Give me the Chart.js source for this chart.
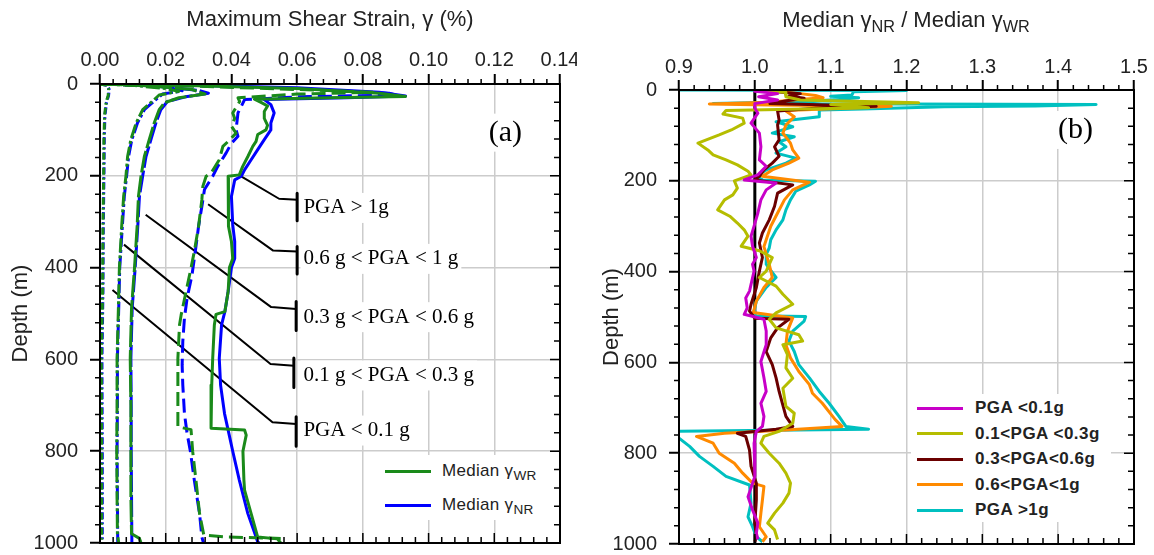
<!DOCTYPE html>
<html>
<head>
<meta charset="utf-8">
<script src="https://cdn.jsdelivr.net/npm/chart.js@4.4.1/dist/chart.umd.min.js"></script>
<style>
html, body { margin: 0; padding: 0; background: #fff; }
#wrap { position: relative; width: 1154px; height: 555px; overflow: hidden; font-family: "Liberation Sans", Arial, sans-serif; color: #222; }
canvas { position: absolute; top: 0; }
#chartA { left: 0; }
#chartB { left: 577px; }
.title { position: absolute; font-size: 22px; white-space: nowrap; transform: translate(-50%, -50%); }
.title sub { font-size: 0.74em; }
sub { font-size: 0.8em; vertical-align: baseline; position: relative; top: 0.33em; line-height: 0; }
.legend { position: absolute; background: #fff; }
.legend .row { position: absolute; left: 0; height: 0; white-space: nowrap; }
.legend .sw { position: absolute; top: -1.5px; height: 3px; }
.legend .tx { position: absolute; top: 0; transform: translateY(-50%); }
#legendA { left: 381px; top: 455px; width: 166px; height: 65px; font-size: 17px; letter-spacing: 0.3px; }
#legendB { left: 911px; top: 394px; width: 200px; height: 128px; font-size: 17px; font-weight: bold; letter-spacing: 0.5px; }
</style>
</head>
<body>
<div id="wrap">
  <canvas id="chartA" width="577" height="555"></canvas>
  <canvas id="chartB" width="577" height="555"></canvas>
  <div class="title" style="left:906px;top:20px;">Median γ<sub>NR</sub> / Median γ<sub>WR</sub></div>
  <div class="legend" id="legendA"></div>
  <div class="legend" id="legendB"></div>
</div>
<script>
// axis ticks
const strainTicks = [0, 0.02, 0.04, 0.06, 0.08, 0.10, 0.12, 0.14];
const ratioTicks = [0.9, 1.0, 1.1, 1.2, 1.3, 1.4, 1.5];
const depthTicks = [0, 200, 400, 600, 800, 1000];

// (a) median max shear strain [strain %, depth m], WR = with rotation, NR = no rotation
const wrLt01 = [[0,0],[0.002,3],[0.0026,10],[0.0025,25],[0.0019,38],[0.0014,68],[0.0012,118],[0.0011,200],[0.0009,310],[0.0008,450],[0.0004,600],[0.0005,800],[0.0005,1000]];
const nrLt01 = [[0,0],[0.0022,3],[0.0028,12],[0.0026,25],[0.002,40],[0.0015,68],[0.0013,118],[0.0012,200],[0.001,310],[0.0009,450],[0.0006,600],[0.0007,800],[0.0007,1000]];
const wr0103 = [[0,0],[0.01,3],[0.02,10],[0.024,16],[0.018,24],[0.0165,34],[0.013,56],[0.011,85],[0.0094,121],[0.0084,158],[0.0079,200],[0.0072,245],[0.0066,310],[0.0059,401],[0.0056,488],[0.0052,598],[0.0052,700],[0.0051,800],[0.0052,900],[0.0053,980],[0.0057,1000]];
const nr0103 = [[0,0],[0.01,2],[0.022,9],[0.025,15],[0.019,22],[0.017,34],[0.0135,56],[0.0114,85],[0.0097,121],[0.0087,158],[0.0081,200],[0.0074,245],[0.0068,310],[0.006,401],[0.0057,488],[0.0053,598],[0.0053,700],[0.0052,800],[0.0053,900],[0.0054,1000]];
const wr0306 = [[0,0],[0.015,4],[0.028,12],[0.032,22],[0.024,30],[0.0196,41],[0.018,56],[0.0165,85],[0.015,121],[0.0135,158],[0.0125,200],[0.0117,245],[0.0113,310],[0.0105,401],[0.0096,488],[0.0092,598],[0.0094,700],[0.0094,800],[0.0094,900],[0.0096,980],[0.012,990],[0.0125,1000]];
const nr0306 = [[0,0],[0.015,3],[0.03,14],[0.033,20],[0.026,28],[0.0205,38],[0.0185,56],[0.017,85],[0.0155,121],[0.014,158],[0.013,200],[0.012,245],[0.0115,310],[0.0107,401],[0.0098,488],[0.0094,598],[0.0095,700],[0.0095,800],[0.0096,900],[0.0097,1000]];
const wr0610 = [[0,0],[0.03,5],[0.06,12],[0.083,18],[0.06,22],[0.042,30],[0.0425,38],[0.0415,50],[0.0404,63],[0.041,75],[0.040,92],[0.0414,107],[0.039,125],[0.0374,136],[0.0363,165],[0.0338,194],[0.0323,201],[0.0313,223],[0.031,252],[0.030,310],[0.0287,365],[0.0277,401],[0.0262,452],[0.0247,503],[0.0242,525],[0.0237,598],[0.0237,656],[0.0237,747],[0.0277,753],[0.0282,800],[0.0292,863],[0.0303,936],[0.0316,983],[0.0385,987],[0.055,990]];
const nr0610 = [[0,0],[0.03,4],[0.06,10],[0.088,20],[0.09,24],[0.06,28],[0.044,34],[0.042,63],[0.0414,100],[0.042,114],[0.040,129],[0.0384,150],[0.0358,180],[0.0343,201],[0.0318,230],[0.031,267],[0.030,310],[0.029,365],[0.028,416],[0.0265,467],[0.0257,510],[0.0252,561],[0.025,612],[0.0252,656],[0.0257,718],[0.0265,761],[0.0275,800],[0.0287,863],[0.0303,936],[0.031,987],[0.0315,1000]];
const wrGt1 = [[0,0],[0.03,4],[0.06,10],[0.085,20],[0.093,27],[0.07,30],[0.047,33],[0.049,40],[0.051,48],[0.050,60],[0.050,75],[0.051,90],[0.0505,100],[0.048,110],[0.0475,125],[0.0465,136],[0.045,158],[0.0434,180],[0.0424,198],[0.039,201],[0.039,245],[0.0392,310],[0.040,343],[0.0404,380],[0.0394,400],[0.039,452],[0.038,496],[0.0353,502],[0.0348,525],[0.0343,598],[0.034,656],[0.0338,700],[0.0338,750],[0.044,754],[0.0445,765],[0.0435,800],[0.0438,863],[0.044,885],[0.046,936],[0.048,987],[0.054,991],[0.055,1000]];
const nrGt1 = [[0,0],[0.03,3],[0.06,8],[0.085,18],[0.093,26],[0.075,30],[0.05,34],[0.052,45],[0.053,63],[0.052,85],[0.052,100],[0.050,121],[0.048,143],[0.046,165],[0.044,187],[0.043,201],[0.041,209],[0.040,245],[0.0404,307],[0.041,343],[0.041,380],[0.040,400],[0.039,452],[0.038,496],[0.037,525],[0.0363,598],[0.0367,656],[0.0379,718],[0.039,754],[0.0404,800],[0.0424,863],[0.045,936],[0.0475,987],[0.048,998],[0.0485,1000]];

// (a) leader lines and brackets [strain %, depth m]
const annotText = ['PGA > 1g', '0.6 g < PGA < 1 g', '0.3 g < PGA < 0.6 g', '0.1 g < PGA < 0.3 g', 'PGA < 0.1 g'];
const annotDepth = [270, 381, 508, 635, 755];
const leaders = [
  [[0.0427,200],[0.0545,250],[0.0600,252]],
  [[0.0329,262],[0.0527,363],[0.0600,365]],
  [[0.0139,285],[0.0521,486],[0.0597,490]],
  [[0.0073,350],[0.0519,610],[0.0590,614]],
  [[0.0038,449],[0.0525,737],[0.0597,741]]
];
const brackets = [
  [[0.0600,238],[0.0600,298]],
  [[0.0600,354],[0.0600,414]],
  [[0.0597,474],[0.0597,537]],
  [[0.0590,597],[0.0590,661]],
  [[0.0597,725],[0.0597,789]]
];

// (b) median ratio NR/WR [ratio, depth m]
const ratioLt01 = [[1.0,0],[1.0,3],[1.03,8],[1.005,15],[1.03,22],[1.0,30],[1.0,40],[1.004,51],[0.995,73],[1.006,95],[1.008,125],[1.006,154],[1.015,168],[1.004,187],[0.986,198],[1.028,205],[1.015,220],[1.008,242],[1.004,271],[0.999,300],[0.995,322],[0.997,344],[1.002,369],[0.997,384],[0.999,399],[0.993,443],[0.988,458],[0.99,480],[0.986,494],[1.012,505],[1.015,531],[1.015,561],[1.008,598],[1.012,634],[1.015,664],[1.008,690],[1.012,719],[1.01,741],[1.002,752],[0.999,778],[1.0,851],[0.991,896],[0.997,925],[1.004,954],[1.002,976],[1.004,990]];
const ratio0103 = [[1.0,0],[1.04,5],[1.041,15],[1.06,22],[1.216,28],[1.10,32],[1.15,39],[0.962,45],[0.958,53],[0.984,62],[0.986,73],[0.969,88],[0.953,99],[0.925,117],[0.938,132],[0.945,143],[0.962,154],[0.977,165],[0.991,179],[0.995,187],[0.973,200],[0.977,216],[0.971,231],[0.96,242],[0.951,264],[0.967,278],[0.977,293],[0.986,308],[0.991,322],[0.982,344],[1.006,354],[1.023,369],[1.019,384],[1.015,399],[1.006,413],[1.028,432],[1.037,450],[1.05,472],[1.028,491],[1.019,505],[1.028,524],[1.058,539],[1.063,553],[1.037,561],[1.043,583],[1.041,612],[1.05,635],[1.037,657],[1.041,697],[1.052,712],[1.05,734],[1.032,752],[1.012,763],[1.008,778],[1.019,800],[1.032,822],[1.041,844],[1.047,866],[1.045,888],[1.037,910],[1.026,932],[1.017,954],[1.026,969],[1.03,990]];
const ratio0306 = [[1.0,0],[1.02,3],[1.06,8],[1.045,13],[1.065,18],[1.04,24],[1.02,30],[1.16,36],[1.08,40],[1.03,46],[1.032,66],[1.03,77],[1.032,110],[1.026,125],[1.032,146],[1.023,161],[1.012,176],[1.006,190],[1.0,198],[1.05,209],[1.03,227],[1.026,256],[1.019,286],[1.01,315],[1.006,337],[1.01,369],[1.006,399],[1.002,435],[0.995,472],[0.993,487],[1.0,503],[1.045,505],[1.03,524],[1.021,546],[1.015,576],[1.023,605],[1.028,634],[1.032,664],[1.041,719],[1.05,741],[1.028,747],[0.977,756],[0.988,763],[0.993,793],[0.995,829],[1.002,866],[1.002,903],[1.0,954],[1.002,984],[1.0,995]];
const ratio0610 = [[1.0,0],[1.03,3],[1.06,8],[1.08,12],[1.09,17],[1.05,22],[1.02,27],[0.94,31],[1.02,33],[1.18,36],[1.12,40],[1.04,45],[1.052,59],[1.041,77],[1.037,95],[1.047,117],[1.05,132],[1.058,150],[1.045,161],[1.023,176],[1.01,190],[1.072,203],[1.05,220],[1.039,242],[1.03,271],[1.021,300],[1.015,330],[1.012,345],[1.019,384],[1.023,413],[1.012,435],[1.002,465],[0.998,490],[1.05,502],[1.043,531],[1.041,561],[1.047,590],[1.058,620],[1.072,649],[1.076,668],[1.089,690],[1.106,726],[1.115,741],[1.041,749],[0.96,756],[0.923,763],[0.945,778],[0.953,800],[0.973,822],[0.984,844],[0.997,866],[1.012,873],[1.01,903],[1.008,932],[1.006,962],[1.015,984],[1.01,995]];
const ratioGt1 = [[0.90,0],[1.20,1],[1.13,4],[1.128,11],[1.10,14],[1.137,17],[1.10,22],[1.06,26],[0.945,30],[1.45,32],[1.37,35],[1.25,37],[1.142,42],[1.085,44],[1.085,59],[1.028,70],[1.05,81],[1.023,95],[1.052,103],[1.032,114],[1.041,125],[1.028,139],[1.054,150],[1.041,161],[1.015,176],[1.002,190],[1.01,198],[1.08,201],[1.072,209],[1.054,223],[1.047,242],[1.041,264],[1.037,286],[1.028,308],[1.021,330],[1.019,348],[1.015,362],[1.015,384],[1.028,413],[1.015,435],[1.002,465],[0.999,487],[1.0,497],[1.067,499],[1.065,509],[1.05,531],[1.045,553],[1.052,576],[1.058,605],[1.072,634],[1.085,664],[1.098,690],[1.111,719],[1.12,741],[1.15,747],[0.895,752],[0.897,763],[0.914,785],[0.927,807],[0.945,829],[0.962,851],[0.993,870],[0.995,910],[0.991,940],[0.997,962],[1.002,984],[1.01,995]];
const unityLine = [[1.0,0],[1.0,1000]];

const legendNamesB = ['PGA <0.1g', '0.1<PGA <0.3g', '0.3<PGA<0.6g', '0.6<PGA<1g', 'PGA >1g'];
const colorsB = ['#c800c8', '#b5bd00', '#6b0000', '#ff8a00', '#00c0c0'];

const GREEN = '#1a8a1a', BLUE = '#0000ff';
const GRID = '#cccccc';

Chart.defaults.font.family = '"Liberation Sans", Arial, sans-serif';
Chart.defaults.color = '#222';

const toXY = pts => pts.map(p => ({ x: p[0], y: p[1] }));

function curve(pts, color, width, dash) {
    return { data: toXY(pts), showLine: true, borderColor: color, borderWidth: width, borderDash: dash || [],
        borderJoinStyle: 'round', pointRadius: 0, fill: false, tension: 0 };
}

// frame, minor ticks and text labels drawn against the chart scales
function framePlugin(cfg) {
    return {
        id: 'frame',
        beforeDatasetsDraw(chart) {
            const { ctx } = chart;
            const xs = chart.scales.x, ys = chart.scales.y;
            ctx.save();
            ctx.textBaseline = 'middle';
            cfg.labels.forEach(l => {
                ctx.font = l.font;
                const px = xs.getPixelForValue(l.x), py = ys.getPixelForValue(l.y);
                const w = ctx.measureText(l.text).width;
                const left = l.center ? px - w / 2 : px;
                ctx.fillStyle = '#fff';
                ctx.fillRect(left - 3, py - l.h / 2, w + 6, l.h);
                ctx.fillStyle = '#000';
                ctx.textAlign = 'left';
                ctx.fillText(l.text, left, py);
            });
            ctx.restore();
        },
        afterDatasetsDraw(chart) {
            const { ctx, chartArea: a } = chart;
            const xs = chart.scales.x, ys = chart.scales.y;
            ctx.save();
            ctx.strokeStyle = '#000';
            ctx.lineWidth = 1.5;
            ctx.beginPath();
            const nx = Math.round((xs.max - xs.min) / cfg.xMinor);
            for (let i = 0; i <= nx; i++) {
                const px = xs.getPixelForValue(xs.min + i * cfg.xMinor);
                const major = i % cfg.xEvery === 0;
                if (!major) { ctx.moveTo(px, a.top); ctx.lineTo(px, a.top - 5); }
                ctx.moveTo(px, a.bottom); ctx.lineTo(px, a.bottom - (major ? 10 : 6));
            }
            const ny = Math.round((ys.max - ys.min) / cfg.yMinor);
            for (let i = 0; i <= ny; i++) {
                const py = ys.getPixelForValue(ys.min + i * cfg.yMinor);
                const major = i % cfg.yEvery === 0;
                if (!major) { ctx.moveTo(a.left, py); ctx.lineTo(a.left - 5, py); }
                ctx.moveTo(a.right, py); ctx.lineTo(a.right - (major ? 10 : 6), py);
            }
            ctx.stroke();
            ctx.lineWidth = 2;
            ctx.strokeRect(a.left, a.top, a.right - a.left, a.bottom - a.top);
            ctx.restore();
        }
    };
}

function axes(xTicks, decimals, xTitle, yTitlePad, yWidth, xHeight, labelPadX) {
    return {
        x: {
            type: 'linear', position: 'top', min: xTicks[0], max: xTicks[xTicks.length - 1],
            afterBuildTicks: s => { s.ticks = xTicks.map(v => ({ value: v })); },
            afterFit: s => { s.height = xHeight; s.paddingLeft = 0; s.paddingRight = 0; },
            ticks: { font: { size: 20 }, padding: labelPadX, maxRotation: 0, callback: v => Number(v).toFixed(decimals) },
            grid: { color: GRID, lineWidth: 1.5, tickColor: '#000', tickWidth: 2, tickLength: 10 },
            border: { display: false },
            title: { display: !!xTitle, text: xTitle, font: { size: 22 }, padding: { top: 7, bottom: 0 } }
        },
        y: {
            type: 'linear', reverse: true, min: 0, max: 1000,
            afterBuildTicks: s => { s.ticks = depthTicks.map(v => ({ value: v })); },
            afterFit: s => { s.width = yWidth; s.paddingTop = 0; s.paddingBottom = 0; },
            ticks: { font: { size: 20 }, padding: 12, callback: v => String(v) },
            grid: { color: GRID, lineWidth: 1.5, tickColor: '#000', tickWidth: 2, tickLength: 10 },
            border: { display: false },
            title: { display: true, text: 'Depth (m)', font: { size: 22 }, padding: { top: yTitlePad, bottom: 0 } }
        }
    };
}

function renderPanelA() {
    const styles = [[7, 3, 2, 3], [14, 3, 3, 3], [22, 3], [14, 6], []];
    const wr = [wrLt01, wr0103, wr0306, wr0610, wrGt1];
    const nr = [nrLt01, nr0103, nr0306, nr0610, nrGt1];
    const datasets = [];
    wr.forEach((pts, i) => datasets.push(curve(pts, GREEN, 3, styles[i])));
    nr.forEach((pts, i) => datasets.push(curve(pts, BLUE, 3, styles[i])));
    leaders.forEach(pts => datasets.push(curve(pts, '#000', 2)));
    brackets.forEach(pts => datasets.push(curve(pts, '#000', 3)));

    const labels = annotText.map((t, i) => ({ text: t, x: 0.0619, y: annotDepth[i], font: '21px "Liberation Serif", "Times New Roman", serif', h: 30 }));
    labels.push({ text: '(a)', x: 0.1234, y: 106, center: true, font: '30px "Liberation Serif", "Times New Roman", serif', h: 38 });

    new Chart(document.getElementById('chartA'), {
        type: 'scatter',
        data: { datasets },
        options: {
            responsive: false, animation: false,
            layout: { padding: { left: 0, top: 0, right: 17, bottom: 12 } },
            plugins: { legend: { display: false }, tooltip: { enabled: false } },
            scales: axes(strainTicks, 2, 'Maximum Shear Strain, γ (%)', 8, 100, 84, 2)
        },
        plugins: [framePlugin({ xMinor: 0.004, xEvery: 5, yMinor: 40, yEvery: 5, labels })]
    });

    const legend = document.getElementById('legendA');
    [['WR', GREEN, 16], ['NR', BLUE, 50]].forEach(([sub, color, y]) => {
        legend.insertAdjacentHTML('beforeend',
            `<div class="row" style="top:${y}px"><div class="sw" style="left:4px;width:46px;background:${color}"></div>` +
            `<div class="tx" style="left:61px">Median γ<sub>${sub}</sub></div></div>`);
    });
}

function renderPanelB() {
    const series = [ratioLt01, ratio0103, ratio0306, ratio0610, ratioGt1];
    const datasets = series.map((pts, i) => curve(pts, colorsB[i], 3));
    datasets.push(curve(unityLine, '#000', 3));

    new Chart(document.getElementById('chartB'), {
        type: 'scatter',
        data: { datasets },
        options: {
            responsive: false, animation: false,
            layout: { padding: { left: 0, top: 0, right: 20, bottom: 11 } },
            plugins: { legend: { display: false }, tooltip: { enabled: false } },
            scales: axes(ratioTicks, 1, '', 22, 102, 90, 1)
        },
        plugins: [framePlugin({ xMinor: 0.02, xEvery: 5, yMinor: 40, yEvery: 5,
            labels: [{ text: '(b)', x: 1.423, y: 88, center: true, font: '30px "Liberation Serif", "Times New Roman", serif', h: 38 }] })]
    });

    const legend = document.getElementById('legendB');
    legendNamesB.forEach((name, i) => {
        legend.insertAdjacentHTML('beforeend',
            `<div class="row" style="top:${14 + i * 25.5}px"><div class="sw" style="left:6px;width:46px;background:${colorsB[i]}"></div>` +
            `<div class="tx" style="left:64px">${name.replace(/</g, '&lt;').replace(/>/g, '&gt;')}</div></div>`);
    });
}

window.addEventListener('DOMContentLoaded', () => {
    renderPanelA();
    renderPanelB();
});
</script>
</body>
</html>
